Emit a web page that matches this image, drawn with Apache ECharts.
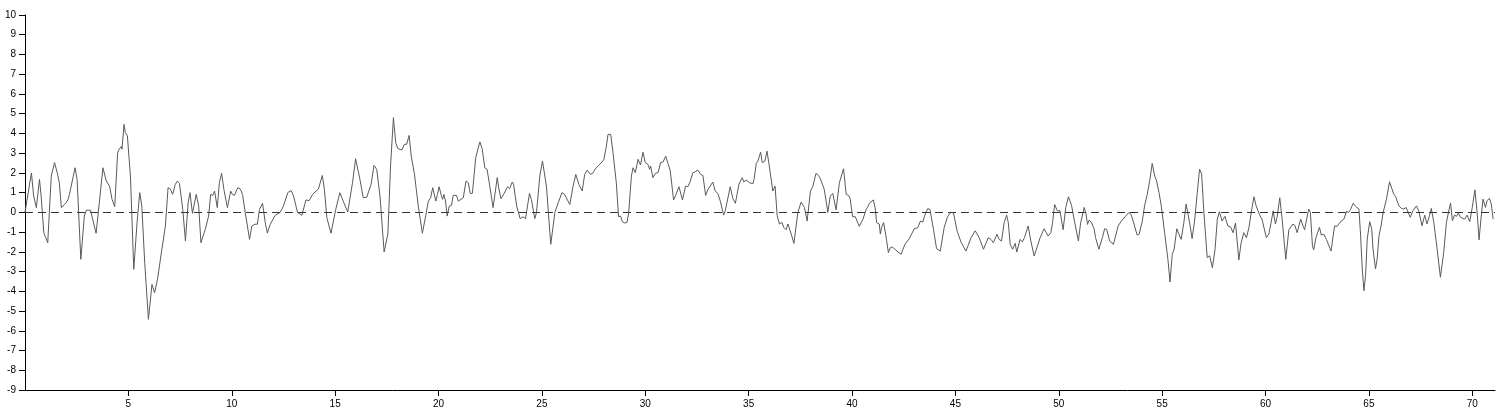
<!DOCTYPE html>
<html>
<head>
<meta charset="utf-8">
<script src="https://cdn.jsdelivr.net/npm/echarts@6/dist/echarts.min.js"></script>
<style>
html,body{margin:0;padding:0;background:#fff;}
#chart{width:1501px;height:412px;}
</style>
</head>
<body>
<div id="chart"></div>
<script>
// [x, y] points
const signalPoints = [
[0,0],[0.31,2.0],[0.42,0.83],[0.55,0.24],[0.70,1.67],[0.78,0.83],[0.91,-1.03],[0.99,-1.1],[1.10,-1.54],[1.27,1.84],[1.43,2.52],[1.56,2.0],[1.66,1.5],[1.76,0.24],[1.84,0.2],[1.99,0.49],[2.08,0.65],[2.15,0.91],[2.23,0.83],[2.42,2.26],[2.52,1.67],[2.70,-2.38],[2.87,-0.19],[2.97,0.12],[3.17,0.1],[3.25,0.15],[3.44,-1.06],[3.51,-1.0],[3.77,2.26],[3.93,1.59],[4.0,1.67],[4.09,1.33],[4.21,0.66],[4.29,0.6],[4.34,0.29],[4.48,3.02],[4.56,3.22],[4.66,3.33],[4.69,3.2],[4.79,4.46],[4.85,4.05],[4.95,3.9],[5.10,1.84],[5.26,-2.89],[5.31,-2.85],[5.42,-0.52],[5.55,1.0],[5.65,0.32],[5.79,-2.55],[5.97,-5.42],[6.14,-3.65],[6.27,-4.07],[6.41,-3.39],[6.62,-1.87],[6.79,-0.69],[6.92,1.25],[7.03,1.18],[7.14,0.91],[7.27,1.42],[7.37,1.59],[7.47,1.47],[7.63,0.15],[7.76,-1.45],[7.89,0.49],[7.98,1.0],[8.10,-0.05],[8.18,-0.15],[8.28,0.91],[8.40,0.32],[8.51,-1.54],[8.72,-0.86],[8.88,-0.19],[8.98,0.91],[9.08,0.86],[9.17,1.08],[9.30,0.24],[9.40,1.5],[9.51,1.98],[9.62,1.16],[9.79,0.24],[9.95,1.08],[10.03,0.91],[10.13,0.86],[10.29,1.25],[10.42,1.18],[10.52,0.91],[10.65,0],[10.86,-1.37],[10.97,-0.69],[11.13,-0.6],[11.24,-0.6],[11.34,0.15],[11.49,0.46],[11.62,-0.52],[11.72,-1.05],[11.86,-0.61],[12.10,-0.15],[12.34,0],[12.50,0.32],[12.71,1.0],[12.87,1.11],[12.99,0.83],[13.18,0],[13.39,-0.15],[13.59,0.63],[13.74,0.59],[13.91,0.91],[14.00,0.86],[14.08,1.08],[14.19,1.18],[14.27,1.15],[14.38,1.87],[14.48,1.18],[14.60,-0.27],[14.80,-1.06],[15.03,0.15],[15.23,1.0],[15.39,0.57],[15.61,0.02],[15.84,1.5],[15.99,2.72],[16.20,1.67],[16.36,0.74],[16.53,0.77],[16.74,1.42],[16.88,2.38],[17.01,2.18],[17.17,0.83],[17.37,-2.01],[17.55,-1.1],[17.68,2.35],[17.82,4.8],[17.93,3.53],[18.03,3.23],[18.23,3.16],[18.35,3.45],[18.46,3.45],[18.58,3.9],[18.68,2.85],[18.84,1.92],[19.02,0.32],[19.22,-1.06],[19.38,-0.17],[19.51,0.57],[19.62,0.74],[19.72,1.25],[19.79,1.3],[19.87,0.57],[19.95,0.91],[20.03,1.3],[20.14,0.84],[20.20,0.66],[20.26,0.91],[20.34,0.57],[20.42,-0.19],[20.52,0.32],[20.63,0.36],[20.71,0.86],[20.79,0.8],[20.87,0.86],[20.96,0.57],[21.04,0.66],[21.20,0.74],[21.33,1.59],[21.44,1.5],[21.54,0.95],[21.64,0.97],[21.80,2.77],[22.00,3.57],[22.11,3.23],[22.24,2.26],[22.35,2.18],[22.48,1.33],[22.64,0.24],[22.71,0.32],[22.84,1.76],[22.91,1.25],[23.02,0.69],[23.08,0.63],[23.18,0.96],[23.34,1.3],[23.44,1.2],[23.57,1.54],[23.63,1.42],[23.78,0.32],[23.95,-0.32],[24.09,-0.22],[24.21,-0.32],[24.40,0.96],[24.49,0.66],[24.66,-0.32],[24.74,0],[24.90,1.84],[25.03,2.6],[25.11,2.6],[25.22,1.33],[25.43,-1.62],[25.63,0],[25.79,0.49],[25.97,1.0],[26.10,0.91],[26.35,0.4],[26.51,1.33],[26.64,1.92],[26.79,1.42],[26.95,1.08],[27.07,1.92],[27.19,2.14],[27.36,1.92],[27.47,2.0],[27.59,2.21],[27.75,2.38],[27.91,2.55],[28.00,2.68],[28.12,3.36],[28.20,3.95],[28.33,3.95],[28.44,3.02],[28.60,1.5],[28.71,-0.22],[28.81,-0.19],[28.89,-0.47],[29.01,-0.54],[29.12,-0.5],[29.20,0],[29.33,1.84],[29.41,2.26],[29.52,2.01],[29.65,2.69],[29.77,2.4],[29.89,3.05],[30.00,2.52],[30.13,2.43],[30.21,2.18],[30.26,2.35],[30.37,1.76],[30.49,1.98],[30.62,2.01],[30.74,2.52],[30.86,2.55],[30.99,2.85],[31.10,2.48],[31.21,2.1],[31.37,0.63],[31.47,0.86],[31.63,1.3],[31.80,0.63],[31.95,1.33],[32.06,1.3],[32.15,1.5],[32.30,2.0],[32.43,2.07],[32.55,2.14],[32.68,1.92],[32.79,1.87],[32.92,0.86],[33.03,1.16],[33.27,1.54],[33.38,1.08],[33.51,0.96],[33.63,0.57],[33.79,-0.14],[33.87,0.08],[34.11,1.3],[34.24,0.69],[34.36,0.46],[34.53,1.42],[34.69,1.76],[34.77,1.54],[34.88,1.64],[34.93,1.66],[35.05,1.5],[35.13,1.57],[35.21,1.45],[35.26,1.66],[35.37,2.48],[35.45,2.6],[35.58,3.05],[35.66,2.52],[35.79,2.6],[35.89,3.1],[36.00,2.35],[36.17,1.08],[36.28,1.33],[36.38,-0.17],[36.49,-0.59],[36.61,-0.51],[36.70,-0.76],[36.81,-0.88],[36.90,-0.59],[37.06,-1.1],[37.19,-1.57],[37.38,0],[37.54,0.52],[37.70,0.25],[37.83,-0.44],[37.99,1.08],[38.10,1.3],[38.26,1.98],[38.38,1.87],[38.47,1.7],[38.55,1.79],[38.66,1.16],[38.83,0],[38.95,0.83],[39.07,0.96],[39.23,0.13],[39.39,1.5],[39.59,2.21],[39.72,0.91],[39.83,0.86],[39.91,0.69],[40.03,-0.22],[40.16,-0.22],[40.35,-0.71],[40.52,-0.37],[40.68,0.13],[40.77,0.3],[40.84,0.46],[40.92,0.42],[41.03,0.63],[41.13,0.17],[41.19,-0.52],[41.32,-0.59],[41.37,-1.1],[41.43,-0.76],[41.53,-0.52],[41.64,-1.19],[41.76,-2.04],[41.85,-1.79],[41.96,-1.76],[42.12,-1.91],[42.37,-2.13],[42.56,-1.62],[42.77,-1.33],[43.01,-0.83],[43.18,-0.78],[43.31,-0.44],[43.43,-0.49],[43.51,-0.17],[43.66,0.19],[43.77,0.15],[43.94,-0.86],[44.09,-1.84],[44.27,-1.96],[44.46,-0.76],[44.62,-0.22],[44.78,0],[44.91,-0.03],[45.08,-0.93],[45.27,-1.5],[45.51,-1.96],[45.76,-1.28],[45.96,-0.93],[46.15,-1.28],[46.36,-1.87],[46.59,-1.28],[46.72,-1.37],[46.84,-1.54],[47.01,-1.11],[47.12,-1.37],[47.23,-1.45],[47.36,-0.52],[47.48,-0.14],[47.56,-0.52],[47.65,-1.62],[47.77,-1.87],[47.89,-1.57],[47.97,-2.01],[48.13,-1.37],[48.24,-1.5],[48.34,-1.28],[48.52,-0.69],[48.65,-1.45],[48.81,-2.21],[48.97,-1.7],[49.10,-1.28],[49.29,-0.83],[49.49,-1.2],[49.62,-1.03],[49.70,-0.52],[49.80,0.4],[49.93,0.08],[50.06,0.08],[50.21,-0.88],[50.34,0.25],[50.47,0.79],[50.62,0.35],[50.74,-0.34],[50.95,-1.45],[51.06,-0.52],[51.23,0.25],[51.32,-0.08],[51.39,-0.61],[51.47,-0.39],[51.58,-0.52],[51.71,-0.83],[51.78,-1.28],[51.94,-1.87],[52.11,-1.28],[52.22,-0.83],[52.32,-0.86],[52.46,-1.45],[52.64,-1.62],[52.75,-1.2],[52.87,-0.69],[53.03,-0.44],[53.21,-0.22],[53.40,0],[53.51,-0.14],[53.64,-0.59],[53.79,-1.15],[53.89,-1.1],[54.04,-0.44],[54.15,0.32],[54.28,0.91],[54.41,1.67],[54.52,2.48],[54.64,1.84],[54.73,1.6],[54.85,1.0],[54.96,0.32],[55.12,-1.03],[55.28,-2.38],[55.38,-3.53],[55.49,-2.13],[55.58,-1.87],[55.71,-0.83],[55.81,-1.1],[55.92,-1.37],[56.05,-0.52],[56.16,0.42],[56.24,0.37],[56.34,-0.59],[56.45,-1.33],[56.57,-0.44],[56.70,1.0],[56.81,2.18],[56.91,1.94],[57.02,0],[57.18,-2.29],[57.30,-2.2],[57.43,-2.8],[57.56,-1.87],[57.67,-0.34],[57.77,0.03],[57.90,-0.44],[58.04,-0.2],[58.18,-0.69],[58.31,-0.74],[58.43,-1.03],[58.55,-0.54],[58.71,-2.41],[58.82,-1.54],[58.95,-1.03],[59.08,-1.28],[59.20,-0.76],[59.31,0],[59.44,0.79],[59.55,0.32],[59.63,0.3],[59.73,-0.17],[59.83,-0.34],[59.91,-0.27],[60.04,-1.28],[60.16,-1.1],[60.27,-0.52],[60.37,0.08],[60.48,-0.59],[60.56,-0.25],[60.69,0.74],[60.80,-0.3],[60.98,-2.38],[61.13,-0.88],[61.32,-0.59],[61.42,-0.66],[61.53,-1.03],[61.70,-0.34],[61.78,-0.59],[61.89,-0.88],[62.09,0.17],[62.17,0],[62.27,-1.7],[62.33,-1.9],[62.44,-1.28],[62.61,-0.76],[62.70,-1.15],[62.82,-1.11],[62.95,-1.38],[63.03,-1.48],[63.17,-1.96],[63.34,-0.69],[63.46,-0.71],[63.66,-0.44],[63.79,-0.34],[63.92,0.05],[64.02,0],[64.11,0.14],[64.24,0.46],[64.36,0.3],[64.43,0.36],[64.52,0.17],[64.60,-1.18],[64.68,-2.87],[64.76,-3.97],[64.84,-3.21],[64.92,-1.35],[65.04,-0.47],[65.14,-0.85],[65.20,-1.86],[65.32,-2.87],[65.40,-2.37],[65.49,-1.18],[65.59,-0.68],[65.69,0],[65.85,0.67],[66.00,1.55],[66.07,1.55],[66.20,0.93],[66.29,0.81],[66.45,0.33],[66.58,0.2],[66.69,0.17],[66.80,0.25],[66.88,0.17],[67.00,-0.25],[67.13,0.08],[67.30,0.33],[67.41,0.08],[67.57,-0.68],[67.70,-0.14],[67.81,-0.59],[67.94,-0.14],[68.02,0.2],[68.14,-0.51],[68.30,-1.86],[68.46,-3.29],[68.62,-2.03],[68.75,-0.51],[68.85,0],[68.95,0.47],[69.04,-0.42],[69.14,-0.14],[69.24,-0.2],[69.33,-0.04],[69.43,-0.25],[69.53,-0.3],[69.63,-0.34],[69.75,-0.14],[69.88,-0.47],[70.00,0.25],[70.13,1.14],[70.24,-0.08],[70.33,-1.39],[70.42,-0.34],[70.52,0.67],[70.64,0.25],[70.71,0.59],[70.83,0.71],[70.92,0.42],[71.01,-0.34]
];
const xTickValues = [5,10,15,20,25,30,35,40,45,50,55,60,65,70];
const xMin = 0, xMax = 71.1;
const yMin = -9, yMax = 10;
const baselineValue = 0;

const chart = echarts.init(document.getElementById('chart'), null, {renderer:'canvas'});
const axisFont = {fontFamily:'"Liberation Sans", Arial, sans-serif', fontSize:10, color:'#000'};
chart.setOption({
  animation:false,
  grid:{left:25, right:6, top:15, bottom:22, containLabel:false},
  xAxis:{
    type:'value', min:xMin, max:xMax, interval:5,
    axisLine:{show:true, onZero:false, lineStyle:{color:'#000', width:1}},
    axisTick:{show:true, length:6, lineStyle:{color:'#000'}, customValues:xTickValues},
    axisLabel:Object.assign({margin:9, customValues:xTickValues}, axisFont),
    splitLine:{show:false}
  },
  yAxis:{
    type:'value', min:yMin, max:yMax, interval:1,
    axisLine:{show:true, lineStyle:{color:'#000', width:1}},
    axisTick:{show:true, length:6, lineStyle:{color:'#000'}},
    axisLabel:Object.assign({margin:9}, axisFont),
    splitLine:{show:false}
  },
  series:[{
    type:'line',
    data:signalPoints,
    showSymbol:false,
    symbol:'none',
    lineStyle:{color:'#5a5a5a', width:1},
    markLine:{
      silent:true,
      symbol:['none','none'],
      label:{show:false},
      lineStyle:{color:'#333', width:1, type:[8,5]},
      data:[{yAxis:baselineValue}]
    }
  }]
});
</script>
</body>
</html>
